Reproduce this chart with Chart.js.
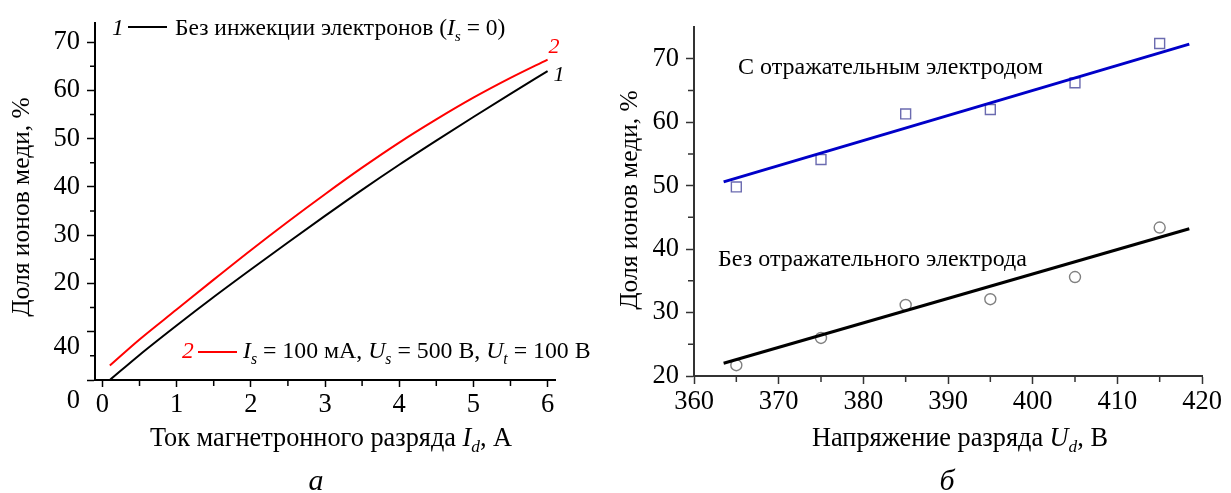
<!doctype html>
<html>
<head>
<meta charset="UTF-8" />
<title>Доля ионов меди</title>
<script src="https://cdn.jsdelivr.net/npm/chart.js@4"></script>
<style>
  body { margin: 0; background: #fff; }
  #wrap { position: relative; width: 1231px; height: 493px; }
  #left { position: absolute; left: 0; top: 0; width: 615px; height: 493px; }
  #right { position: absolute; left: 615px; top: 0; width: 616px; height: 493px; }
</style>
</head>
<body>
<div id="wrap">
  <canvas id="left" width="615" height="493"></canvas>
  <canvas id="right" width="616" height="493"></canvas>
</div>

<script>
// ---- data, panel a ----
var currentA = [0.1, 0.5, 1, 1.5, 2, 2.5, 3, 3.5, 4, 4.5, 5, 5.5, 6];
var noInjection = [0, 5.2, 11.3, 17.2, 22.9, 28.5, 34, 39.4, 44.6, 49.6, 54.5, 59.3, 64];
var withInjection = [3, 8.4, 14.6, 20.8, 26.9, 32.8, 38.5, 44.0, 49.2, 54.0, 58.5, 62.6, 66.4];
var leftXTicks = [0, 1, 2, 3, 4, 5, 6];
var leftYTicks = [0, 10, 20, 30, 40, 50, 60, 70];
var leftYTickText = ['0', '40', '20', '30', '40', '50', '60', '70'];

// ---- data, panel б ----
var voltage = [365, 375, 385, 395, 405, 415];
var withElectrode = [49.8, 54.1, 61.3, 62.0, 66.2, 72.4];
var withoutElectrode = [21.7, 26.0, 31.2, 32.1, 35.6, 43.4];
var fitVoltage = [363.5, 418.5];
var fitWith = [50.6, 72.3];
var fitWithout = [22.0, 43.2];
var rightXTicks = [360, 370, 380, 390, 400, 410, 420];
var rightYTicks = [20, 30, 40, 50, 60, 70];

var SERIF = '"Liberation Serif", "Times New Roman", serif';

function pts(xs, ys) {
    return xs.map(function (x, i) { return { x: x, y: ys[i] }; });
}

// draw a run of text pieces (italic / subscript), returns width
function rich(c, parts, x, y, size, dry) {
    var cx = x;
    parts.forEach(function (p) {
        var fs = p.sub ? size * 0.66 : size;
        c.font = (p.it ? 'italic ' : '') + fs + 'px ' + SERIF;
        if (!dry) {
            c.fillStyle = p.color || '#000';
            c.fillText(p.t, cx, y + (p.sub ? size * 0.24 : 0));
        }
        cx += c.measureText(p.t).width;
    });
    return cx - x;
}

function richCenter(c, parts, cx, y, size) {
    var w = rich(c, parts, 0, 0, size, true);
    rich(c, parts, cx - w / 2, y, size);
}

function minorTicks(chart, axis, values, len, color) {
    var s = chart.scales[axis], c = chart.ctx;
    c.save();
    c.strokeStyle = color;
    c.lineWidth = 1.5;
    c.beginPath();
    values.forEach(function (v) {
        var p = s.getPixelForValue(v);
        if (axis === 'x') { c.moveTo(p, s.top); c.lineTo(p, s.top + len); }
        else { c.moveTo(s.right, p); c.lineTo(s.right - len, p); }
    });
    c.stroke();
    c.restore();
}

function fixedTicks(values) {
    return function (scale) {
        scale.ticks = values.map(function (v) { return { value: v }; });
    };
}

function axisBase(color) {
    return {
        grid: { drawOnChartArea: false, drawTicks: true, tickLength: 8, tickColor: color, tickWidth: 1.5 },
        border: { display: true, color: color, width: 2 },
        ticks: { color: '#000', font: { family: SERIF, size: 26.5 }, maxRotation: 0, autoSkip: false }
    };
}

// ---------- panel a ----------
var leftDecor = {
    id: 'leftDecor',
    afterDraw: function (chart) {
        var c = chart.ctx, xs = chart.scales.x, ys = chart.scales.y;
        minorTicks(chart, 'x', [0.5, 1.5, 2.5, 3.5, 4.5, 5.5], 6, '#000');
        minorTicks(chart, 'y', [5, 15, 25, 35, 45, 55, 65], 5, '#000');
        c.save();

        // the two shifted tick labels of the original
        c.font = '26.5px ' + SERIF;
        c.fillStyle = '#000';
        c.textAlign = 'right';
        c.textBaseline = 'middle';
        c.fillText(leftYTickText[0], 80, ys.getPixelForValue(0) + 21);
        c.fillText(leftYTickText[1], 80, ys.getPixelForValue(10) + 15);

        c.textAlign = 'left';
        c.textBaseline = 'alphabetic';
        // legend 1
        rich(c, [{ t: '1', it: true }], 112, 35, 23.5);
        c.strokeStyle = '#000'; c.lineWidth = 2;
        c.beginPath(); c.moveTo(128, 27); c.lineTo(167, 27); c.stroke();
        rich(c, [{ t: 'Без инжекции электронов (' }, { t: 'I', it: true }, { t: 's', it: true, sub: true }, { t: ' = 0)' }], 175, 35, 23.5);
        // legend 2
        rich(c, [{ t: '2', it: true, color: '#f00' }], 182, 358, 23.5);
        c.strokeStyle = '#f00';
        c.beginPath(); c.moveTo(198, 352); c.lineTo(237, 352); c.stroke();
        rich(c, [
            { t: 'I', it: true }, { t: 's', it: true, sub: true }, { t: ' = 100 мА, ' },
            { t: 'U', it: true }, { t: 's', it: true, sub: true }, { t: ' = 500 В, ' },
            { t: 'U', it: true }, { t: 't', it: true, sub: true }, { t: ' = 100 В' }
        ], 243, 358, 23.8);

        // curve end labels
        var n = currentA.length - 1;
        var px = xs.getPixelForValue(currentA[n]);
        rich(c, [{ t: '2', it: true, color: '#f00' }], px + 1, ys.getPixelForValue(withInjection[n]) - 7, 22);
        rich(c, [{ t: '1', it: true }], px + 6, ys.getPixelForValue(noInjection[n]) + 10, 22);

        // axis titles
        richCenter(c, [{ t: 'Ток магнетронного разряда ' }, { t: 'I', it: true }, { t: 'd', it: true, sub: true }, { t: ', А' }], 331, 446, 26.3);
        richCenter(c, [{ t: 'а', it: true }], 316, 490, 30);
        c.translate(22, 207);
        c.rotate(-Math.PI / 2);
        c.textAlign = 'center';
        c.textBaseline = 'middle';
        c.font = '25.5px ' + SERIF;
        c.fillText('Доля ионов меди, %', 0, 0);
        c.restore();
    }
};

var lx = axisBase('#000'), ly = axisBase('#000');
lx.type = 'linear'; lx.min = -0.1; lx.max = 6.1;
lx.afterBuildTicks = fixedTicks(leftXTicks);
lx.afterFit = function (s) { s.height = 113; };
lx.grid.tickLength = 7;
lx.ticks.padding = 2;
ly.type = 'linear'; ly.min = 0; ly.max = 74;
ly.afterBuildTicks = fixedTicks(leftYTicks);
ly.afterFit = function (s) { s.width = 95; };
ly.ticks.padding = 7;
ly.ticks.callback = function (v) {
    var i = leftYTicks.indexOf(v);
    return i < 2 ? '' : leftYTickText[i];
};

new Chart(document.getElementById('left').getContext('2d'), {
    type: 'scatter',
    data: {
        datasets: [
            { data: pts(currentA, noInjection), borderColor: '#000', borderWidth: 2, showLine: true, pointRadius: 0, cubicInterpolationMode: 'monotone' },
            { data: pts(currentA, withInjection), borderColor: '#f00', borderWidth: 2, showLine: true, pointRadius: 0, cubicInterpolationMode: 'monotone' }
        ]
    },
    options: {
        responsive: false,
        animation: false,
        events: [],
        layout: { padding: { left: 0, right: 60, top: 12, bottom: 0 } },
        plugins: { legend: { display: false }, tooltip: { enabled: false } },
        scales: { x: lx, y: ly }
    },
    plugins: [leftDecor]
});

// ---------- panel б ----------
var rightDecor = {
    id: 'rightDecor',
    afterDraw: function (chart) {
        var c = chart.ctx;
        minorTicks(chart, 'x', [365, 375, 385, 395, 405, 415], 6, '#333');
        minorTicks(chart, 'y', [25, 35, 45, 55, 65], 6, '#333');
        c.save();
        c.textAlign = 'left';
        c.textBaseline = 'alphabetic';
        rich(c, [{ t: 'С отражательным электродом' }], 123, 74, 24);
        rich(c, [{ t: 'Без отражательного электрода' }], 103, 266, 24);
        richCenter(c, [{ t: 'Напряжение разряда ' }, { t: 'U', it: true }, { t: 'd', it: true, sub: true }, { t: ', В' }], 345, 446, 26.3);
        richCenter(c, [{ t: 'б', it: true }], 332, 490, 30);
        c.translate(15, 200);
        c.rotate(-Math.PI / 2);
        c.textAlign = 'center';
        c.textBaseline = 'middle';
        c.font = '25.5px ' + SERIF;
        c.fillStyle = '#000';
        c.fillText('Доля ионов меди, %', 0, 0);
        c.restore();
    }
};

var rx = axisBase('#333'), ry = axisBase('#333');
rx.type = 'linear'; rx.min = 360; rx.max = 420;
rx.afterBuildTicks = fixedTicks(rightXTicks);
rx.afterFit = function (s) { s.height = 117; };
rx.ticks.padding = 2;
ry.type = 'linear'; ry.min = 20; ry.max = 75;
ry.afterBuildTicks = fixedTicks(rightYTicks);
ry.afterFit = function (s) { s.width = 79; };
ry.ticks.padding = 7;

new Chart(document.getElementById('right').getContext('2d'), {
    type: 'scatter',
    data: {
        datasets: [
            { data: pts(fitVoltage, fitWith), borderColor: '#0000c8', borderWidth: 3, showLine: true, pointRadius: 0 },
            { data: pts(voltage, withElectrode), pointStyle: 'rect', pointRadius: 7, borderColor: '#6b6bb0', backgroundColor: 'rgba(0,0,0,0)', borderWidth: 1.4 },
            { data: pts(fitVoltage, fitWithout), borderColor: '#000', borderWidth: 3, showLine: true, pointRadius: 0 },
            { data: pts(voltage, withoutElectrode), pointStyle: 'circle', pointRadius: 5.5, borderColor: '#808080', backgroundColor: 'rgba(0,0,0,0)', borderWidth: 1.4 }
        ]
    },
    options: {
        responsive: false,
        animation: false,
        events: [],
        layout: { padding: { left: 0, right: 29, top: 27, bottom: 0 } },
        plugins: { legend: { display: false }, tooltip: { enabled: false } },
        scales: { x: rx, y: ry }
    },
    plugins: [rightDecor]
});
</script>
</body>
</html>
